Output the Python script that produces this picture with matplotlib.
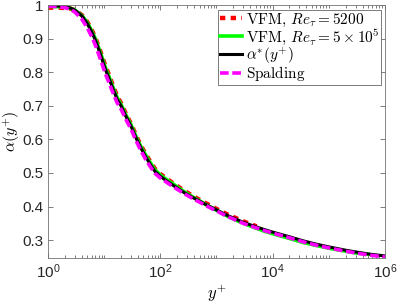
import numpy as np
import matplotlib
matplotlib.use("Agg")
import matplotlib.pyplot as plt
from matplotlib.ticker import FixedLocator, FuncFormatter, NullFormatter

plt.rcParams['mathtext.fontset'] = 'custom'
plt.rcParams['mathtext.rm'] = 'Liberation Sans'
plt.rcParams['mathtext.it'] = 'Liberation Sans:italic'
plt.rcParams['font.family'] = ['Liberation Sans', 'DejaVu Sans']

# Datos
yp_alpha = [1, 1.5, 2, 2.5, 3, 4, 5, 6, 7, 8, 9, 10, 11, 12, 14, 17, 20, 25, 30, 38, 45,
            55, 65, 80, 100, 130, 170, 257, 350, 500, 700, 1000, 1500, 2000, 3000, 5000,
            7000, 1e4, 2e4, 3.5e4, 6e4, 1e5, 2e5, 3e5, 5e5, 1e6]
alpha_star = [0.998, 0.997, 0.995, 0.991, 0.985, 0.968, 0.945, 0.92, 0.895, 0.868, 0.843,
              0.82, 0.80, 0.785, 0.755, 0.72, 0.70, 0.665, 0.64, 0.60, 0.575,
              0.548, 0.528, 0.505, 0.49, 0.476, 0.463, 0.443, 0.43, 0.416, 0.403, 0.39,
              0.375, 0.366, 0.353, 0.34, 0.332, 0.324, 0.31, 0.298, 0.288, 0.28, 0.27,
              0.265, 0.259, 0.253]

yp_spal = yp_alpha
alpha_spal = [0.997, 0.995, 0.992, 0.987, 0.979, 0.958, 0.932, 0.906, 0.88, 0.853, 0.828,
              0.806, 0.787, 0.772, 0.743, 0.709, 0.69, 0.656, 0.631, 0.592, 0.567,
              0.54, 0.521, 0.499, 0.485, 0.472, 0.459, 0.44, 0.427, 0.413, 0.4, 0.387,
              0.372, 0.363, 0.35, 0.337, 0.329, 0.321, 0.307, 0.295, 0.285, 0.277, 0.267,
              0.262, 0.256, 0.25]

yp_5200 = [1, 1.5, 2, 2.5, 3, 4, 5, 6, 7, 8, 9, 10, 11, 12, 14, 17, 20, 25, 30, 38, 45,
           55, 65, 80, 100, 130, 170, 257, 350, 500, 700, 1000, 1500, 2000, 3000, 5200]
alpha_5200 = [0.992, 0.992, 0.991, 0.989, 0.985, 0.97, 0.95, 0.926, 0.902, 0.876, 0.852,
              0.829, 0.81, 0.795, 0.765, 0.729, 0.708, 0.672, 0.647, 0.607, 0.582,
              0.556, 0.536, 0.513, 0.497, 0.483, 0.469, 0.449, 0.435, 0.42, 0.407, 0.393,
              0.378, 0.369, 0.356, 0.341]

yp_5e5 = [1, 1.5, 2, 2.5, 3, 4, 5, 6, 7, 8, 9, 10, 11, 12, 14, 17, 20, 25, 30, 38, 45,
          55, 65, 80, 100, 130, 170, 257, 350, 500, 700, 1000, 1500, 2000, 3000, 5000,
          7000, 1e4, 2e4, 3.5e4, 6e4, 1e5, 2e5, 3e5, 5e5]
alpha_5e5 = [0.996, 0.995, 0.994, 0.99, 0.985, 0.969, 0.948, 0.923, 0.899, 0.872, 0.848,
             0.825, 0.805, 0.79, 0.76, 0.725, 0.704, 0.669, 0.644, 0.604, 0.579,
             0.553, 0.533, 0.51, 0.494, 0.48, 0.467, 0.446, 0.432, 0.417, 0.403, 0.389,
             0.373, 0.363, 0.35, 0.336, 0.327, 0.319, 0.305, 0.293, 0.284, 0.276, 0.267,
             0.262, 0.258]

fig = plt.figure(figsize=(3.98, 3.05), dpi=100)
ax = fig.add_axes([0.1206, 0.1554, 0.8464, 0.8282])

ax.plot(yp_5200, alpha_5200, color='#ff0000', lw=3.2, ls=(0, (1.2, 1.2)),
        label=r'$\mathrm{VFM},\,Re_\tau=5200$')
ax.plot(yp_5e5, alpha_5e5, color='#00ff00', lw=2.6,
        label=r'$\mathrm{VFM},\,Re_\tau=5\times10^5$')
ax.plot(yp_alpha, alpha_star, color='black', lw=2.2, label=r'$\alpha^{*}(y^{+})$')
ax.plot(yp_spal, alpha_spal, color='#ff00ff', lw=2.6, ls=(0, (2.4, 1.0)),
        label=r'$\mathrm{Spalding}$')

ax.set_xscale('log')
ax.set_xlim(1, 1e6)
ax.set_ylim(0.248, 1.0)

ax.xaxis.set_major_locator(FixedLocator([1, 1e2, 1e4, 1e6]))
minors = [m * 10.0**d for d in range(6) for m in range(1, 10) if not (m == 1 and d % 2 == 0)]
ax.xaxis.set_minor_locator(FixedLocator(minors))
ax.xaxis.set_minor_formatter(NullFormatter())
ax.xaxis.set_major_formatter(FuncFormatter(lambda v, p: r'$10^{%d}$' % round(np.log10(v))))
ax.set_yticks([0.3, 0.4, 0.5, 0.6, 0.7, 0.8, 0.9, 1.0])
ax.set_yticklabels(['0.3', '0.4', '0.5', '0.6', '0.7', '0.8', '0.9', '1'])

ax.tick_params(which='both', direction='in', top=True, right=True, colors='0.4',
               labelcolor='#262626', labelsize=11, width=0.6)
ax.tick_params(which='major', length=3.5)
ax.tick_params(which='minor', length=2)
for s in ax.spines.values():
    s.set_color('0.45')
    s.set_linewidth(0.6)

ax.set_xlabel(r'$y^{+}$', fontsize=12, math_fontfamily='cm', labelpad=1)
ax.set_ylabel(r'$\alpha(y^{+})$', fontsize=11.5, math_fontfamily='cm', labelpad=0)

leg = ax.legend(loc='upper right', bbox_to_anchor=(0.99, 0.98),
                prop={'size': 11, 'math_fontfamily': 'cm'},
                fancybox=False, framealpha=1, edgecolor='0.4',
                handlelength=1.5, handletextpad=0.25, borderpad=0.1,
                labelspacing=-0.1, borderaxespad=0)
leg.get_frame().set_linewidth(0.6)

fig.savefig('out.png', dpi=100)
